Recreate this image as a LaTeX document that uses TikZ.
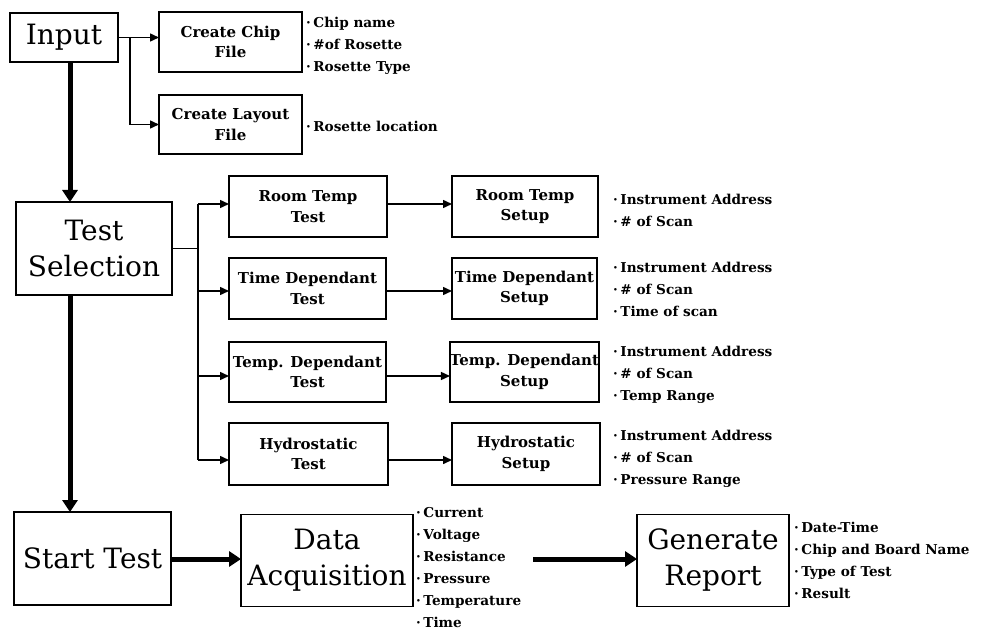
\documentclass[tikz,border=0pt]{standalone}
\usepackage{fontspec}
\setmainfont{DejaVu Serif}
\usetikzlibrary{arrows.meta}

% list bullet: a small centred dot followed by a short gap
\newcommand\bu{\textperiodcentered\hspace{2.5pt}}

\tikzset{
  box/.style={draw, line width=1.6pt, inner sep=0pt, outer sep=0pt, align=center},
  smallbox/.style={box, font=\fontsize{15}{20.5}\selectfont\bfseries},
  bigbox/.style={box, font=\fontsize{28}{36}\selectfont},
  infolist/.style={anchor=north west, inner sep=0pt, align=left,
    font=\fontsize{13.6}{22}\selectfont\bfseries},
  thinarrow/.style={line width=1.5pt, -{Triangle[length=9pt,width=8pt]}},
  thickarrow/.style={line width=5pt, -{Triangle[length=12pt,width=15pt]}},
  plainline/.style={line width=1.5pt},
}

\begin{document}
\begin{tikzpicture}[x=1pt,y=-1pt]
\useasboundingbox (0,0) rectangle (1003,631);

% ---- input stage
\node[bigbox, minimum width=108, minimum height=49] (in) at (64,37.5) {Input};
\node[smallbox, minimum width=143, minimum height=60] (chip) at (230.5,42) {Create Chip\\File};
\node[smallbox, minimum width=143, minimum height=59] (layout) at (230.5,124.5) {Create Layout\\File};
\node[infolist] (chipinfo) at (306,12) {\strut\bu Chip name\\\bu\#of Rosette\\\bu Rosette Type};
\node[infolist] (layoutinfo) at (306,116) {\strut\bu Rosette location};

% ---- test selection
\node[bigbox, minimum width=156, minimum height=93] (ts) at (94,248.5) {Test\\Selection};

\node[smallbox, minimum width=158, minimum height=61] (rtt) at (308,206.5) {Room Temp\\Test};
\node[smallbox, minimum width=157, minimum height=61] (tdt) at (307.5,288.5) {Time Dependant\\Test};
\node[smallbox, minimum width=157, minimum height=60] (pdt) at (307.5,372) {Temp. Dependant\\Test};
\node[smallbox, minimum width=159, minimum height=62] (hyt) at (308.5,454) {Hydrostatic\\Test};

\node[smallbox, minimum width=146, minimum height=61] (rts) at (525,206.5) {Room Temp\\Setup};
\node[smallbox, minimum width=145, minimum height=61] (tds) at (524.5,288.5) {Time Dependant\\Setup};
\node[smallbox, minimum width=145, minimum height=60] (pds) at (524.5,372) {Temp. Dependant\\Setup};
\node[smallbox, minimum width=148, minimum height=62] (hys) at (526,454) {Hydrostatic\\Setup};

\node[infolist] (rtinfo) at (613,189) {\strut\bu Instrument Address\\\bu\# of Scan};
\node[infolist] (tdinfo) at (613,257) {\strut\bu Instrument Address\\\bu\# of Scan\\\bu Time of scan};
\node[infolist] (pdinfo) at (613,341) {\strut\bu Instrument Address\\\bu\# of Scan\\\bu Temp Range};
\node[infolist] (hyinfo) at (613,425) {\strut\bu Instrument Address\\\bu\# of Scan\\\bu Pressure Range};

% ---- run stage
\node[bigbox, minimum width=157, minimum height=93] (st) at (92.5,558.5) {Start Test};
\node[bigbox, minimum width=172, minimum height=92] (da) at (327,560.5) {Data\\Acquisition};
\node[bigbox, minimum width=152, minimum height=92] (gr) at (713,560.5) {Generate\\Report};
\node[infolist] (dainfo) at (416,502) {\strut\bu Current\\\bu Voltage\\\bu Resistance\\\bu Pressure\\\bu Temperature\\\bu Time};
\node[infolist] (grinfo) at (794,517) {\strut\bu Date-Time\\\bu Chip and Board Name\\\bu Type of Test\\\bu Result};

% ---- branch points and arrow levels
\coordinate (mainx) at (70,0);
\coordinate (inbr) at (130,0);
\coordinate (tsbr) at (198,0);
\coordinate (r1) at (0,204);
\coordinate (r2) at (0,291);
\coordinate (r3) at (0,376);
\coordinate (r4) at (0,460);
\coordinate (dr) at (533,559);

% ---- connectors
\draw[thinarrow] (in.east) -- (in.east -| chip.west);
\draw[thinarrow] (in.east -| inbr) |- (layout.west);

\draw[thickarrow] (in.south -| mainx) -- (ts.north -| mainx);
\draw[thickarrow] (ts.south -| mainx) -- (st.north -| mainx);

\draw[plainline] (ts.east) -- (ts.east -| tsbr);
\draw[plainline] (tsbr |- r1) -- (tsbr |- r4);
\draw[thinarrow] (tsbr |- r1) -- (rtt.west |- r1);
\draw[thinarrow] (tsbr |- r2) -- (tdt.west |- r2);
\draw[thinarrow] (tsbr |- r3) -- (pdt.west |- r3);
\draw[thinarrow] (tsbr |- r4) -- (hyt.west |- r4);

\draw[thinarrow] (rtt.east |- r1) -- (rts.west |- r1);
\draw[thinarrow] (tdt.east |- r2) -- (tds.west |- r2);
\draw[thinarrow] (pdt.east |- r3) -- (pds.west |- r3);
\draw[thinarrow] (hyt.east |- r4) -- (hys.west |- r4);

\draw[thickarrow] (st.east |- dr) -- (da.west |- dr);
\draw[thickarrow] (dr) -- (dr -| gr.west);
\end{tikzpicture}
\end{document}
